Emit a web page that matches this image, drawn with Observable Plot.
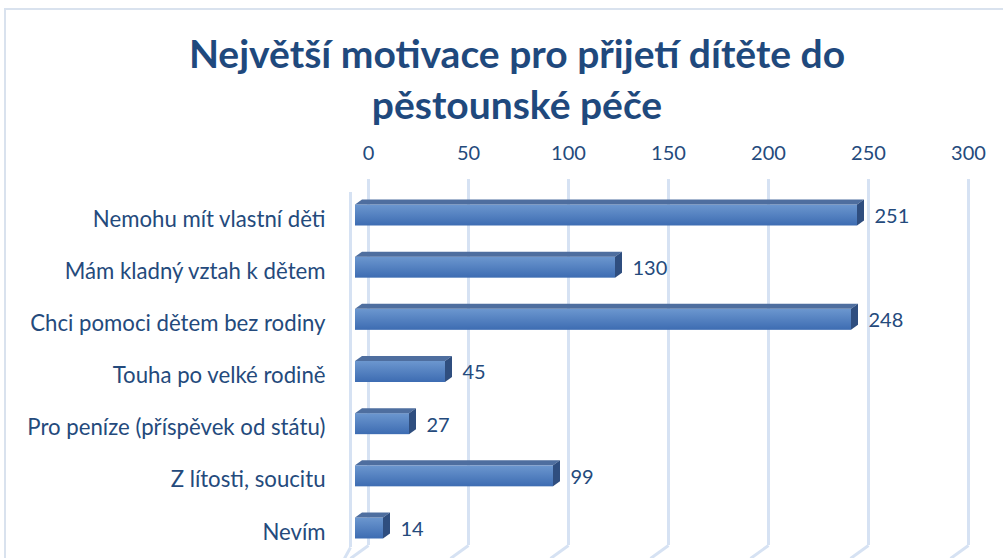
<!DOCTYPE html>
<html><head><meta charset="utf-8">
<script src="https://cdn.jsdelivr.net/npm/d3@7"></script>
<script src="https://cdn.jsdelivr.net/npm/@observablehq/plot@0.6"></script>
<style>
body{margin:0;background:#fff;}
#wrap{position:relative;width:1003px;height:558px;overflow:hidden;background:#fff;font-family:Lato,"Open Sans",sans-serif;}
#frame{position:absolute;left:4px;top:8px;width:1020px;height:600px;border:2px solid #D9E2EE;box-sizing:border-box;}
#title{position:absolute;left:0;top:28px;width:1034px;text-align:center;color:#1F497D;font-weight:bold;font-size:39px;line-height:51px;}
#chart{position:absolute;left:0;top:0;}
</style></head>
<body>
<div id="wrap">
  <div id="frame"></div>
  <div id="chart"></div>
  <div id="title">Největší motivace pro přijetí dítěte do<br>pěstounské péče</div>
</div>
<script>
const categories = ["Nemohu mít vlastní děti","Mám kladný vztah k dětem","Chci pomoci dětem bez rodiny","Touha po velké rodině","Pro peníze (příspěvek od státu)","Z lítosti, soucitu","Nevím"];
const values = [251,130,248,45,27,99,14];
const ticks = [0,50,100,150,200,250,300];

const data = categories.map((c,i)=>({cat:c,i,v:values[i]}));
const rowTop = 215, rowBottom = 528;
const pxPerRow = (rowBottom-rowTop)/(categories.length-1);
const yAt = px => (px-rowTop)/pxPerRow;
const hu = 10.5/pxPerRow;      // half front-face height
const du = 5/pxPerRow;         // depth (vertical)
const dxu = 3.5;               // depth (horizontal, in x units)
const topPts = data.flatMap(d=>[{i:d.i,y:d.i-hu,x1:0,x2:d.v},{i:d.i,y:d.i-hu-du,x1:dxu,x2:d.v+dxu}]);
const sidePts = data.flatMap(d=>[{i:d.i,x:d.v,y1:d.i+hu,y2:d.i-hu},{i:d.i,x:d.v+dxu,y1:d.i+hu-du,y2:d.i-hu-du}]);
const txt = "#244A7C";
const grid = "#D6E2F3";

const plot = Plot.plot({
  width:1003, height:558,
  marginLeft:368, marginRight:35, marginTop:179, marginBottom:13,
  x:{domain:[0,300], axis:null},
  y:{domain:[0,6], range:[rowTop,rowBottom], axis:null},
  style:{fontFamily:"Lato, 'Open Sans', sans-serif", background:"transparent"},
  marks:[
    Plot.ruleX(ticks,{stroke:grid,strokeWidth:3}),
    Plot.link(ticks,{x1:d=>d,x2:d=>d-9,y1:yAt(545),y2:yAt(558),stroke:grid,strokeWidth:3}),
    Plot.ruleX([-9],{y1:yAt(192),y2:yAt(547),stroke:grid,strokeWidth:3}),
    Plot.link([-9],{x1:d=>d,x2:d=>d-3,y1:yAt(547),y2:yAt(558),stroke:grid,strokeWidth:3}),
    Plot.text(ticks,{x:d=>d,frameAnchor:"top",dy:-26,lineAnchor:"middle",text:d=>String(d),fontSize:20,fill:txt}),
    Plot.rect(data,{x1:0,x2:"v",y1:d=>d.i-hu,y2:d=>d.i+hu,dx:-13,fill:"url(#barGrad)"}),
    Plot.areaX(topPts,{y:"y",x1:"x1",x2:"x2",z:"i",fill:"#4E6E9F",dx:-13}),
    Plot.areaY(sidePts,{x:"x",y1:"y1",y2:"y2",z:"i",fill:"#2F4E7F",dx:-13}),
    Plot.text(data,{x:"v",y:"i",text:d=>String(d.v),textAnchor:"start",dx:4,dy:1,fontSize:20,fill:txt}),
    Plot.text(data,{x:()=>0,y:"i",text:"cat",textAnchor:"end",dx:-43,dy:4,fontSize:22.2,fill:txt})
  ]
});
const defs = d3.select(plot).insert("defs",":first-child");
const g = defs.append("linearGradient").attr("id","barGrad").attr("x1",0).attr("y1",0).attr("x2",0).attr("y2",1);
g.append("stop").attr("offset","0%").attr("stop-color","#6C97CF");
g.append("stop").attr("offset","100%").attr("stop-color","#3D6CB2");
document.getElementById("chart").appendChild(plot);
</script>
</body></html>
